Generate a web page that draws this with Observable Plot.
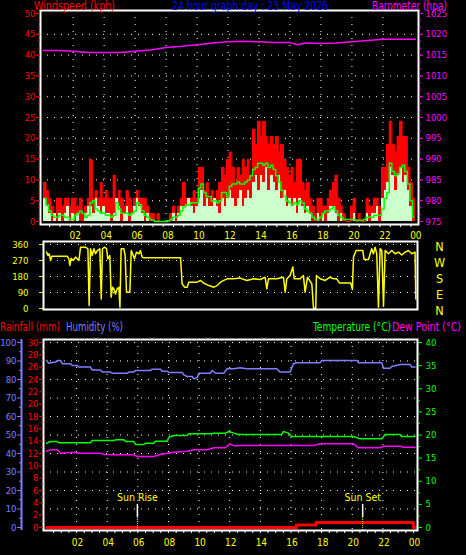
<!DOCTYPE html>
<html><head><meta charset="utf-8">
<script src="https://cdn.jsdelivr.net/npm/d3@7"></script>
<script src="https://cdn.jsdelivr.net/npm/@observablehq/plot@0.6"></script>
<style>
html,body{margin:0;padding:0;background:#000;}
#wrap{position:relative;width:466px;height:555px;background:#000;overflow:hidden;}
</style></head>
<body><div id="wrap"></div>
<script>
// ---------- DATA ----------
// Wind, 10-minute samples (kph)
const windStart = 0.08, windStep = 1/6;
const gust = [
 9.3,7.4,5.6,3.7,1.9,5.6, 5.6,3.7,5.6,5.6,3.7,5.6, 5.6,3.7,5.6,1.9,3.7,5.6, 14.8,5.6,7.4,5.6,9.3,5.6,
 7.4,5.6,5.6,11.1,5.6,7.4, 5.6,3.7,7.4,5.6,3.7,5.6, 7.4,5.6,5.6,5.6,3.7,1.9, 1.9,0,1.9,0,0,0,
 0,1.9,3.7,1.9,3.7,5.6, 9.3,5.6,5.6,5.6,7.4,5.6, 13,13,7.4,9.3,5.6,7.4, 5.6,7.4,9.3,13,11.1,14.8,
 16.7,13,9.3,13,11.1,14.8, 13,14.8,11.1,22.2,18.5,24.1, 20.4,24.1,20.4,18.5,20.4,18.5, 20.4,16.7,18.5,14.8,13,11.1,
 13,9.3,14.8,14.8,9.3,7.4, 9.3,5.6,3.7,1.9,5.6,5.6, 3.7,3.7,5.6,7.4,9.3,11.1, 5.6,3.7,1.9,0,0,3.7,
 5.6,0,1.9,0,0,5.6, 3.7,3.7,5.6,5.6,3.7,13, 13,18.5,24.1,18.5,16.7,20.4, 24.1,20.4,20.4,13,9.3,5.6];
const speed = [
 5.6,3.7,1.9,0,1.9,0, 1.9,0,1.9,3.7,0,1.9, 0,1.9,0,0,1.9,3.7, 3.7,1.9,5.6,3.7,1.9,3.7,
 1.9,1.9,0,1.9,5.6,3.7, 0,1.9,3.7,0,1.9,3.7, 5.6,3.7,1.9,0,1.9,0, 0,0,0,0,0,0,
 0,0,1.9,0,1.9,3.7, 3.7,3.7,5.6,3.7,1.9,3.7, 5.6,7.4,3.7,5.6,3.7,3.7, 5.6,3.7,1.9,5.6,3.7,5.6,
 7.4,5.6,3.7,5.6,7.4,3.7, 5.6,7.4,5.6,9.3,11.1,7.4, 11.1,9.3,13,7.4,11.1,9.3, 7.4,11.1,5.6,7.4,3.7,5.6,
 3.7,5.6,1.9,5.6,3.7,1.9, 3.7,1.9,0,0,1.9,0, 1.9,0,1.9,3.7,3.7,1.9, 0,1.9,0,0,0,0,
 1.9,0,0,0,0,1.9, 0,1.9,1.9,3.7,0,5.6, 7.4,9.3,13,11.1,7.4,11.1, 13,9.3,11.1,7.4,3.7,0];
const avgWind = [
 5.6,4,2.5,1.5,1,1, 1.5,1.5,1,1,0.5,0.5, 1.5,2,2.5,2,1,1.5, 4.5,5,3,2.5,2,2,
 1.5,1.5,1,1.5,4.5,3, 2,2,2,1.5,2,2.5, 4.5,4,2.5,1.5,1,0.5, 0.3,0,0,0,0,0,
 0.2,0.5,1,1,1.5,2.5, 3.5,4,4,4.5,4.5,4.5, 8,9,7,6,6,5, 5,4.5,5,7,7,6,
 8.5,9,9,9.5,9,9, 9.5,10,11,12.5,13,14, 14,13.5,14,13,13.5,12.5, 11,9.5,7.5,6,5,4.5,
 4,4.5,4,5,4.5,3, 2.5,2,1,0.5,0.5,1, 2,2.5,2.5,3,3.5,2.5, 1.5,1,0.5,0.5,0.5,0.5,
 0.5,0.3,0.3,0.3,0.5,1, 1,1,1.5,1.5,1.5,3, 5.5,7,14,12,11,11.5, 13,13.5,12,9,5,1];

// Barometer (hPa)
const baroHour = [0.08,1,2,3,4,5,6,7,8,9,10,11,12,13,14,15,16,16.5,17,18,19,20,21,22,23,24.1];
const baroHpa  = [1016.1,1016.1,1015.9,1015.6,1015.6,1015.6,1015.9,1016.2,1016.8,1017.1,1017.5,1017.9,1018.2,1018.3,1018.2,1018.0,1018.0,1017.5,1017.9,1017.8,1017.9,1018.2,1018.5,1018.8,1018.8,1018.8];
const baroMin = 975;

// Wind direction (degrees)
const dirHour = [0.04,0.13,0.21,0.30,0.39,1.39,1.50,1.56,1.65,1.78,1.93,2.15,2.26,2.58,2.74,2.82,2.91,3.02,3.13,3.24,3.35,3.52,3.61,3.69,3.83,3.96,4.04,4.17,4.26,4.35,4.43,4.54,4.65,4.76,4.83,4.91,5.09,5.17,5.26,5.48,5.57,5.70,5.78,5.91,6.07,6.17,6.28,6.39,8.79,8.89,9.05,9.22,9.33,9.87,10.09,10.31,10.64,10.96,11.18,11.40,11.61,11.83,12.27,
 12.68,13.12,13.55,13.99,14.31,14.42,14.53,15.07,15.51,15.62,15.73,15.94,16.12,16.21,16.60,16.81,16.92,17.08,17.36,17.47,17.62,17.66,17.90,18.23,18.56,18.77,18.99,19.16,19.90,20.01,20.08,20.25,20.69,20.77,21.06,21.17,21.27,21.38,21.49,21.60,21.71,21.82,21.93,22.04,22.15,22.36,22.58,22.80,23.02,23.23,23.45,23.67,23.89,24.10,24.15];
const dirDeg = [317,298,308,270,294,294,279,242,283,270,289,270,345,345,336,17,336,298,336,308,326,336,54,336,345,336,279,298,64,120,111,82,111,120,7,336,336,298,92,92,326,298,279,317,308,326,289,285,285,139,120,120,148,148,158,142,129,120,129,148,158,167,167,
 171,158,167,163,176,111,167,167,176,92,167,186,233,167,167,186,92,176,139,2,2,186,167,158,176,167,167,144,144,107,289,326,326,276,276,308,336,308,345,308,7,336,326,13,326,308,326,308,317,301,317,326,308,317,54];
const compassLabels = ["N","W","S","E","N"];
const compassDeg = [360,270,180,90,0];

// Humidity (%)
const humHour = [0.04,0.19,0.63,0.74,0.95,1.06,1.61,1.71,2.04,2.15,2.91,3.02,3.56,3.67,4.22,4.33,5.31,5.42,5.74,5.85,6.83,6.94,7.48,7.59,7.92,8.02,8.90,9.00,9.22,9.55,9.66,9.88,9.98,10.74,10.85,11.07,11.61,11.83,12.27,12.68,13.12,15.07,15.29,15.94,16.16,16.38,17.90,18.01,20.30,20.41,21.93,22.04,22.47,22.58,23.13,23.78,23.89,24.10];
const humPct  = [90.3,88.8,89.4,90.3,90.3,88.5,88.5,87.6,87.6,86.7,86.7,85.2,85.2,84.0,84.0,83.4,83.4,84.0,84.0,84.9,84.9,85.6,85.6,84.5,84.5,83.8,83.8,82.5,81.6,81.6,80.4,81.0,83.4,83.4,84.9,83.4,83.4,85.8,85.8,86.3,85.8,85.8,84.0,84.0,88.5,89.0,89.0,90.3,90.3,89.0,89.0,86.1,86.1,87.0,88.1,88.1,86.7,86.7];

// Temperature (°C)
const tempHour = [0.04,0.30,0.74,0.84,2.91,3.02,4.43,4.54,5.09,5.20,5.74,5.85,6.39,6.50,7.04,7.15,7.92,8.02,8.35,9.22,9.33,10.74,10.96,11.72,11.94,12.27,12.57,15.40,15.51,15.83,16.05,20.08,20.51,21.93,22.15,23.13,23.23,24.10];
const tempC = [18.23,18.59,18.59,18.30,18.30,18.81,18.81,18.95,18.95,18.59,18.59,17.95,17.95,18.23,18.23,18.67,18.67,19.53,19.89,19.89,20.25,20.25,20.40,20.40,20.76,20.40,20.11,20.11,20.76,20.40,19.68,19.68,19.17,19.17,20.11,20.11,19.68,19.68];

// Dew point (°C)
const dewHour = [0.04,0.30,0.74,0.95,1.82,2.26,3.56,3.78,4.65,5.74,5.96,7.04,7.48,7.92,8.35,9.22,9.66,10.53,10.96,11.72,12.00,12.27,12.90,17.47,17.90,20.08,20.41,21.82,22.04,23.13,23.34,24.10];
const dewC = [16.50,16.79,16.79,16.07,16.29,16.07,16.07,15.78,15.71,15.71,15.35,15.35,15.78,16.07,16.29,16.50,16.79,16.79,17.23,17.23,18.09,17.70,17.73,17.73,18.09,18.09,17.23,17.23,17.59,17.59,17.37,17.37];

// Rainfall (mm)
const rainHour = [0.04,16.36,17.64,23.99,24.10];
const rainMm = [0,0.4,0.8,0,0];

// Sun events
const sunHour = [5.97, 20.68];
const sunLabel = ["Sun Rise", "Sun Set"];

// Tick labels
const hourTicks = [2,4,6,8,10,12,14,16,18,20,22,24];
const windTicks = [0,5,10,15,20,25,30,35,40,45,50];
const humTicks = [0,10,20,30,40,50,60,70,80,90,100];
const rainTicks = [0,2,4,6,8,10,12,14,16,18,20,22,24,26,28,30];
const tempTicks = [0,5,10,15,20,25,30,35,40];

// Titles
const titleText  = ["Windspeed (kph)","24 hour graph day : 23 May 2026","Barometer (hpa)","Rainfall (mm)","Humidity (%)","Temperature (\u00B0C)","Dew Point (\u00B0C)"];
const titleColor = ["#ff0000","#0000ff","#ff00ff","#ff0000","#7f7fff","#00ff00","#ff00ff"];
const titleX = [34,172,372,0,66,313,392];
const titleW = [81,156,75,60,57,78,69];
const titleY = [10,10,10,330.5,330.5,330.5,330.5];

// ---------- DRAW ----------
const RED="#ff0000", GREEN="#00ff00", MAG="#ff00ff", YEL="#ffff00", HUM="#7f7fff", PALE="#ccffcc";
const FONT = '"Liberation Sans Narrow","DejaVu Sans Condensed","Liberation Sans",sans-serif';
const DOT = "1,6";
const none = () => "";
const wrap = document.getElementById("wrap");
function place(svg, top) {
  svg.style.position = "absolute"; svg.style.left = "0px"; svg.style.top = top + "px";
  wrap.appendChild(svg);
}
const baseStyle = {background: "transparent", color: "white", fontFamily: FONT, fontSize: "9.5px", overflow: "visible"};

const wind = gust.map((g, i) => ({t0: windStart + i*windStep, t1: windStart + (i+1)*windStep, gust: g, speed: speed[i], avg: avgWind[i]}));
const baro = baroHour.map((t, i) => ({t, p: baroHpa[i]}));
const hh = h => String(h % 24).padStart(2, "0");
const thirds = d3.range(0, 50.01, 5/3);

const topPlot = Plot.plot({
  width: 466, height: 240, marginLeft: 40, marginRight: 48, marginTop: 10, marginBottom: 16,
  style: baseStyle,
  x: {domain: [-0.11, 24.3], label: null},
  y: {domain: [-0.72, 50.72], label: null},
  marks: [
    Plot.gridY(windTicks.filter(d => d > 0 && d < 50), {stroke: "white", strokeOpacity: 1, strokeDasharray: DOT}),
    Plot.gridX(hourTicks.filter(d => d < 24), {stroke: "white", strokeOpacity: 1, strokeDasharray: DOT}),
    Plot.rect(wind, {x1: "t0", x2: "t1", y1: 0, y2: "gust", fill: RED, shapeRendering: "crispEdges"}),
    Plot.line(wind, {x: "t0", y: "gust", curve: "step-after", stroke: RED, strokeWidth: 1}),
    Plot.rect(wind, {x1: "t0", x2: "t1", y1: 0, y2: "speed", fill: PALE, shapeRendering: "crispEdges"}),
    Plot.line(wind, {x: d => (d.t0 + d.t1) / 2, y: "avg", curve: "step", stroke: GREEN, strokeWidth: 1.5}),
    Plot.line(baro, {x: "t", y: d => d.p - baroMin, stroke: MAG, strokeWidth: 1.5}),
    Plot.frame({stroke: "white", strokeWidth: 2}),
    Plot.axisY(thirds, {anchor: "left", color: RED, tickSize: 2, tickFormat: none, label: null}),
    Plot.axisY(windTicks, {anchor: "left", color: RED, tickSize: 4, tickPadding: 1, tickFormat: d => String(d), label: null}),
    Plot.axisY(thirds, {anchor: "right", color: MAG, tickSize: 2, tickFormat: none, label: null}),
    Plot.axisY(windTicks, {anchor: "right", color: MAG, tickSize: 4, tickPadding: 3, tickFormat: d => String(d + baroMin), label: null}),
    Plot.axisX(d3.range(0.48, 24.3, 2/3), {anchor: "bottom", color: "white", tickSize: 3, tickFormat: none, label: null}),
    Plot.axisX(hourTicks, {anchor: "bottom", color: YEL, tickSize: 0, tickPadding: 7.5, dx: 2, tickFormat: hh, label: null, fontSize: 10})
  ]
});
place(topPlot, 0);

const dir = dirHour.map((t, i) => ({t, deg: dirDeg[i]}));
const compass = compassLabels.map((l, i) => ({l, deg: compassDeg[i]}));
const midPlot = Plot.plot({
  width: 466, height: 80, marginLeft: 43, marginRight: 49, marginTop: 3, marginBottom: 9,
  style: baseStyle,
  x: {domain: [-0.16, 24.26], label: null, axis: null},
  y: {domain: [-5.6, 376.9], label: null},
  marks: [
    Plot.gridY([90,180,270,360], {stroke: "white", strokeOpacity: 1, strokeDasharray: DOT}),
    Plot.line(dir, {x: "t", y: "deg", stroke: YEL, strokeWidth: 1.5}),
    Plot.frame({stroke: "white", strokeWidth: 2}),
    Plot.axisY(compassDeg, {anchor: "left", color: YEL, tickSize: 4, tickPadding: 11, tickFormat: d => String(d), label: null}),
    Plot.text(compass, {frameAnchor: "right", y: "deg", text: "l", dx: 22, dy: 2, fill: YEL, fontSize: 12.5, textAnchor: "middle"})
  ]
});
place(midPlot, 238);

const hum = humHour.map((t, i) => ({t, v: humPct[i]}));
const temp = tempHour.map((t, i) => ({t, v: tempC[i]}));
const dew = dewHour.map((t, i) => ({t, v: dewC[i]}));
const rain = rainHour.map((t, i) => ({t, v: rainMm[i]}));
const sun = sunHour.map((t, i) => ({t, label: sunLabel[i]}));
const rainK = 100 / 30, tempK = 100 / 40;
const botPlot = Plot.plot({
  width: 466, height: 237, marginLeft: 43, marginRight: 49, marginTop: 21, marginBottom: 25,
  style: baseStyle,
  x: {domain: [-0.16, 24.26], label: null},
  y: {domain: [-1.62, 101.62], label: null},
  marks: [
    Plot.gridY(humTicks.filter(d => d > 0), {stroke: "white", strokeOpacity: 1, strokeDasharray: DOT}),
    Plot.gridX(hourTicks.filter(d => d < 24), {stroke: "white", strokeOpacity: 1, strokeDasharray: DOT}),
    Plot.line(hum, {x: "t", y: "v", stroke: HUM, strokeWidth: 1.5}),
    Plot.line(temp, {x: "t", y: d => d.v * tempK, stroke: GREEN, strokeWidth: 1.5}),
    Plot.line(dew, {x: "t", y: d => d.v * tempK, stroke: MAG, strokeWidth: 1.5}),
    Plot.line(rain, {x: "t", y: d => d.v * rainK, curve: "step-after", stroke: RED, strokeWidth: 3}),
    Plot.ruleX(sun, {x: "t", y1: -1.6, y2: 5.5, stroke: YEL, strokeDasharray: "1,1"}),
    Plot.ruleX(sun, {x: "t", y1: 5.5, y2: 12.5, stroke: "white", strokeWidth: 1.5}),
    Plot.text(sun, {x: "t", y: 16.2, text: "label", fill: YEL, fontSize: 10.5}),
    Plot.frame({stroke: "white", strokeWidth: 2}),
    Plot.ruleX([-0.16], {dx: -22, stroke: HUM, strokeWidth: 2}),
    Plot.axisY(d3.range(5, 100, 10), {anchor: "left", dx: -22, color: HUM, tickSize: 2, tickFormat: none, label: null}),
    Plot.axisY(humTicks, {anchor: "left", dx: -22, color: HUM, tickSize: 4, tickPadding: 1, tickFormat: d => String(d), label: null}),
    Plot.axisY(d3.range(1, 30, 2).map(d => d * rainK), {anchor: "left", color: RED, tickSize: 2, tickFormat: none, label: null}),
    Plot.axisY(rainTicks.map(d => d * rainK), {anchor: "left", color: RED, tickSize: 4, tickPadding: 1, tickFormat: d => String(Math.round(d / rainK)), label: null}),
    Plot.axisY(d3.range(2.5, 40, 5).map(d => d * tempK), {anchor: "right", color: GREEN, tickSize: 2, tickFormat: none, label: null}),
    Plot.axisY(tempTicks.map(d => d * tempK), {anchor: "right", color: GREEN, tickSize: 4, tickPadding: 4, tickFormat: d => String(Math.round(d / tempK)), label: null}),
    Plot.axisX(d3.range(0.5, 24.3, 0.5), {anchor: "bottom", color: "white", tickSize: 3, tickFormat: none, label: null}),
    Plot.axisX(hourTicks, {anchor: "bottom", color: YEL, tickSize: 0, tickPadding: 8, dx: 1, tickFormat: hh, label: null, fontSize: 10})
  ]
});
place(botPlot, 318);

// titles overlay
const ov = d3.create("svg").attr("width", 466).attr("height", 555)
  .style("position", "absolute").style("left", "0px").style("top", "0px").style("pointer-events", "none");
ov.selectAll("text").data(titleText).join("text")
  .attr("x", (d, i) => titleX[i]).attr("y", (d, i) => titleY[i])
  .attr("textLength", (d, i) => titleW[i]).attr("lengthAdjust", "spacingAndGlyphs")
  .attr("fill", (d, i) => titleColor[i])
  .style("font-family", FONT).style("font-size", "12.5px")
  .text(d => d);
wrap.appendChild(ov.node());
</script>
</body></html>
